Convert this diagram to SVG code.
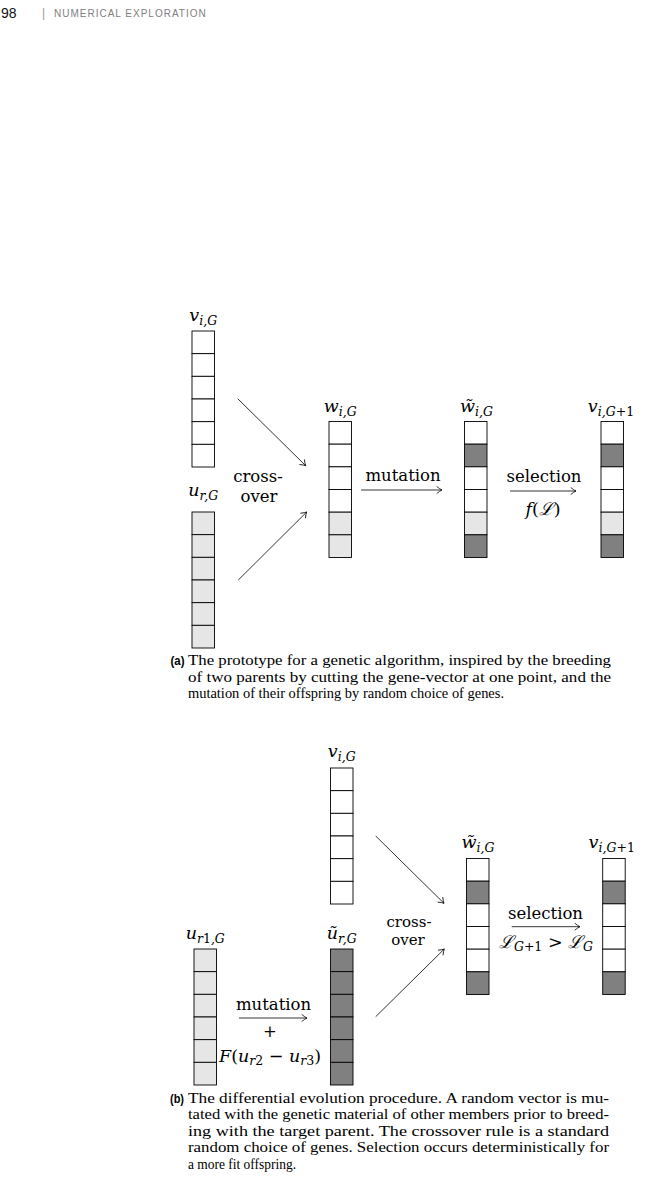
<svg xmlns="http://www.w3.org/2000/svg" width="655" height="1198" viewBox="0 0 655 1198">
<style>
.c{stroke:#000;stroke-width:0.9}
.W{fill:#fff}.L{fill:#e6e6e6}.D{fill:#808080}
.m{font-family:"DejaVu Serif","Liberation Serif",serif;font-style:italic;font-size:17.5px;fill:#000}
.s{font-size:12.5px}
.r{font-style:normal}
.t{font-family:"DejaVu Serif","Liberation Serif",serif;font-size:16.5px;fill:#000}
.t2{font-family:"DejaVu Serif","Liberation Serif",serif;font-size:15px;fill:#000}
.cap{font-family:"Liberation Serif","DejaVu Serif",serif;font-size:14.5px;fill:#000}
.lab{font-family:"Liberation Sans","DejaVu Sans",sans-serif;font-weight:bold;font-size:12.5px;fill:#000}
.ar{stroke:#000;stroke-width:0.8;fill:none}
</style>
<defs>
<marker id="ah" viewBox="-7 -5 9 10" refX="0" refY="0" markerWidth="9" markerHeight="10" orient="auto" markerUnits="userSpaceOnUse">
<path d="M-5,-3.3 Q-2,-0.8 0,0 Q-2,0.8 -5,3.3" fill="none" stroke="#000" stroke-width="0.8" stroke-linecap="round"/>
</marker>
</defs>
<rect width="655" height="1198" fill="#fff"/>

<g id="header">
<text x="1" y="18" font-family="Liberation Sans, DejaVu Sans, sans-serif" font-size="14" fill="#111">98</text>
<text x="42" y="17" font-family="Liberation Sans, DejaVu Sans, sans-serif" font-size="12" fill="#999">|</text>
<text x="54" y="17" font-family="Liberation Sans, DejaVu Sans, sans-serif" font-size="10" letter-spacing="1" fill="#808080">NUMERICAL EXPLORATION</text>
</g>

<!-- (a) -->
<g id="a_v" transform="translate(192,331)">
<rect class="c W" x="0" y="0" width="22.5" height="22.67"/><rect class="c W" x="0" y="22.67" width="22.5" height="22.67"/><rect class="c W" x="0" y="45.33" width="22.5" height="22.67"/><rect class="c W" x="0" y="68" width="22.5" height="22.67"/><rect class="c W" x="0" y="90.67" width="22.5" height="22.67"/><rect class="c W" x="0" y="113.33" width="22.5" height="22.67"/>
<text class="m" x="11.25" y="-10" text-anchor="middle">v<tspan class="s" dy="4">i,G</tspan></text>
</g>
<g id="a_u" transform="translate(192,512)">
<rect class="c L" x="0" y="0" width="22.5" height="22.67"/><rect class="c L" x="0" y="22.67" width="22.5" height="22.67"/><rect class="c L" x="0" y="45.33" width="22.5" height="22.67"/><rect class="c L" x="0" y="68" width="22.5" height="22.67"/><rect class="c L" x="0" y="90.67" width="22.5" height="22.67"/><rect class="c L" x="0" y="113.33" width="22.5" height="22.67"/>
<text class="m" x="11.25" y="-16" text-anchor="middle">u<tspan class="s" dy="4">r,G</tspan></text>
</g>
<g id="a_w" transform="translate(329,421.5)">
<rect class="c W" x="0" y="0" width="22.5" height="22.67"/><rect class="c W" x="0" y="22.67" width="22.5" height="22.67"/><rect class="c W" x="0" y="45.33" width="22.5" height="22.67"/><rect class="c W" x="0" y="68" width="22.5" height="22.67"/><rect class="c L" x="0" y="90.67" width="22.5" height="22.67"/><rect class="c L" x="0" y="113.33" width="22.5" height="22.67"/>
<text class="m" x="11.25" y="-10" text-anchor="middle">w<tspan class="s" dy="4">i,G</tspan></text>
</g>
<g id="a_wt" transform="translate(464.5,421.5)">
<rect class="c W" x="0" y="0" width="22.5" height="22.67"/><rect class="c D" x="0" y="22.67" width="22.5" height="22.67"/><rect class="c W" x="0" y="45.33" width="22.5" height="22.67"/><rect class="c W" x="0" y="68" width="22.5" height="22.67"/><rect class="c L" x="0" y="90.67" width="22.5" height="22.67"/><rect class="c D" x="0" y="113.33" width="22.5" height="22.67"/>
<text class="m" x="12" y="-10" text-anchor="middle">w̃<tspan class="s" dy="4">i,G</tspan></text>
</g>
<g id="a_v1" transform="translate(601,421.5)">
<rect class="c W" x="0" y="0" width="22.5" height="22.67"/><rect class="c D" x="0" y="22.67" width="22.5" height="22.67"/><rect class="c W" x="0" y="45.33" width="22.5" height="22.67"/><rect class="c W" x="0" y="68" width="22.5" height="22.67"/><rect class="c L" x="0" y="90.67" width="22.5" height="22.67"/><rect class="c D" x="0" y="113.33" width="22.5" height="22.67"/>
<text class="m" x="10" y="-10" text-anchor="middle">v<tspan class="s" dy="4">i,G<tspan class="r">+1</tspan></tspan></text>
</g>
<g id="a_labels">
<text class="t" x="258" y="481.5" text-anchor="middle">cross-</text>
<text class="t" x="259" y="501.5" text-anchor="middle">over</text>
<text class="t" x="403" y="481" text-anchor="middle">mutation</text>
<text class="t" x="544" y="481.5" text-anchor="middle">selection</text>
<text class="m" x="543" y="515" text-anchor="middle">f<tspan class="r">(</tspan>ℒ<tspan class="r">)</tspan></text>
</g>

<!-- (b) -->
<g id="b_v" transform="translate(330.5,768)">
<rect class="c W" x="0" y="0" width="22.5" height="22.67"/><rect class="c W" x="0" y="22.67" width="22.5" height="22.67"/><rect class="c W" x="0" y="45.33" width="22.5" height="22.67"/><rect class="c W" x="0" y="68" width="22.5" height="22.67"/><rect class="c W" x="0" y="90.67" width="22.5" height="22.67"/><rect class="c W" x="0" y="113.33" width="22.5" height="22.67"/>
<text class="m" x="11.25" y="-11" text-anchor="middle">v<tspan class="s" dy="4">i,G</tspan></text>
</g>
<g id="b_wt" transform="translate(466.5,858.5)">
<rect class="c W" x="0" y="0" width="22.5" height="22.67"/><rect class="c D" x="0" y="22.67" width="22.5" height="22.67"/><rect class="c W" x="0" y="45.33" width="22.5" height="22.67"/><rect class="c W" x="0" y="68" width="22.5" height="22.67"/><rect class="c W" x="0" y="90.67" width="22.5" height="22.67"/><rect class="c D" x="0" y="113.33" width="22.5" height="22.67"/>
<text class="m" x="11.5" y="-11" text-anchor="middle">w̃<tspan class="s" dy="4">i,G</tspan></text>
</g>
<g id="b_v1" transform="translate(602.7,858.5)">
<rect class="c W" x="0" y="0" width="22.5" height="22.67"/><rect class="c D" x="0" y="22.67" width="22.5" height="22.67"/><rect class="c W" x="0" y="45.33" width="22.5" height="22.67"/><rect class="c W" x="0" y="68" width="22.5" height="22.67"/><rect class="c W" x="0" y="90.67" width="22.5" height="22.67"/><rect class="c D" x="0" y="113.33" width="22.5" height="22.67"/>
<text class="m" x="9" y="-11" text-anchor="middle">v<tspan class="s" dy="4">i,G<tspan class="r">+1</tspan></tspan></text>
</g>
<g id="b_u1" transform="translate(194,949)">
<rect class="c L" x="0" y="0" width="22.5" height="22.67"/><rect class="c L" x="0" y="22.67" width="22.5" height="22.67"/><rect class="c L" x="0" y="45.33" width="22.5" height="22.67"/><rect class="c L" x="0" y="68" width="22.5" height="22.67"/><rect class="c L" x="0" y="90.67" width="22.5" height="22.67"/><rect class="c L" x="0" y="113.33" width="22.5" height="22.67"/>
<text class="m" x="11.25" y="-10" text-anchor="middle">u<tspan class="s" dy="4">r<tspan class="r">1</tspan>,G</tspan></text>
</g>
<g id="b_ut" transform="translate(330.5,949)">
<rect class="c D" x="0" y="0" width="22.5" height="22.67"/><rect class="c D" x="0" y="22.67" width="22.5" height="22.67"/><rect class="c D" x="0" y="45.33" width="22.5" height="22.67"/><rect class="c D" x="0" y="68" width="22.5" height="22.67"/><rect class="c D" x="0" y="90.67" width="22.5" height="22.67"/><rect class="c D" x="0" y="113.33" width="22.5" height="22.67"/>
<text class="m" x="11.25" y="-10" text-anchor="middle">ũ<tspan class="s" dy="4">r,G</tspan></text>
</g>
<g id="b_labels">
<text class="t2" x="409" y="927" text-anchor="middle">cross-</text>
<text class="t2" x="408" y="944.5" text-anchor="middle">over</text>
<text class="t" x="545.5" y="919" text-anchor="middle">selection</text>
<text class="m" x="546" y="948" text-anchor="middle">ℒ<tspan class="s" dy="3">G<tspan class="r">+1</tspan></tspan><tspan class="r" dy="-3"> &gt; </tspan>ℒ<tspan class="s" dy="3">G</tspan></text>
<text class="t" x="273.5" y="1010" text-anchor="middle">mutation</text>
<text class="t" x="270" y="1037" text-anchor="middle">+</text>
<text class="m" x="270" y="1062" text-anchor="middle">F<tspan class="r">(</tspan>u<tspan class="s" dy="3">r<tspan class="r">2</tspan></tspan><tspan class="r" dy="-3"> − </tspan>u<tspan class="s" dy="3">r<tspan class="r">3</tspan></tspan><tspan class="r" dy="-3">)</tspan></text>
</g>

<g id="connectors">
<line class="ar" x1="237.7" y1="398.7" x2="305.7" y2="465.7" marker-end="url(#ah)"/>
<line class="ar" x1="238.3" y1="580" x2="306.7" y2="512" marker-end="url(#ah)"/>
<line class="ar" x1="361" y1="490" x2="442" y2="490" marker-end="url(#ah)"/>
<line class="ar" x1="510" y1="491" x2="576" y2="491" marker-end="url(#ah)"/>
<line class="ar" x1="375.7" y1="836" x2="444" y2="903.3" marker-end="url(#ah)"/>
<line class="ar" x1="375.7" y1="1016.7" x2="444.3" y2="949" marker-end="url(#ah)"/>
<line class="ar" x1="511.7" y1="926.7" x2="580" y2="926.7" marker-end="url(#ah)"/>
<line class="ar" x1="239" y1="1018" x2="307" y2="1018" marker-end="url(#ah)"/>
</g>

<g id="caption_a">
<text class="lab" x="170.5" y="665" textLength="14" lengthAdjust="spacingAndGlyphs">(a)</text>
<text class="cap" x="188" y="665" textLength="423" lengthAdjust="spacingAndGlyphs">The prototype for a genetic algorithm, inspired by the breeding</text>
<text class="cap" x="188" y="681.5" textLength="423" lengthAdjust="spacingAndGlyphs">of two parents by cutting the gene-vector at one point, and the</text>
<text class="cap" x="188" y="698" textLength="316" lengthAdjust="spacingAndGlyphs">mutation of their offspring by random choice of genes.</text>
</g>
<g id="caption_b">
<text class="lab" x="170" y="1102.5" textLength="14" lengthAdjust="spacingAndGlyphs">(b)</text>
<text class="cap" x="188" y="1102.5" textLength="421" lengthAdjust="spacingAndGlyphs">The differential evolution procedure.  A random vector is mu-</text>
<text class="cap" x="188" y="1119" textLength="421" lengthAdjust="spacingAndGlyphs">tated with the genetic material of other members prior to breed-</text>
<text class="cap" x="188" y="1135.5" textLength="421" lengthAdjust="spacingAndGlyphs">ing with the target parent.  The crossover rule is a standard</text>
<text class="cap" x="188" y="1152" textLength="421" lengthAdjust="spacingAndGlyphs">random choice of genes. Selection occurs deterministically for</text>
<text class="cap" x="188" y="1168.5" textLength="108" lengthAdjust="spacingAndGlyphs">a more fit offspring.</text>
</g>
</svg>
